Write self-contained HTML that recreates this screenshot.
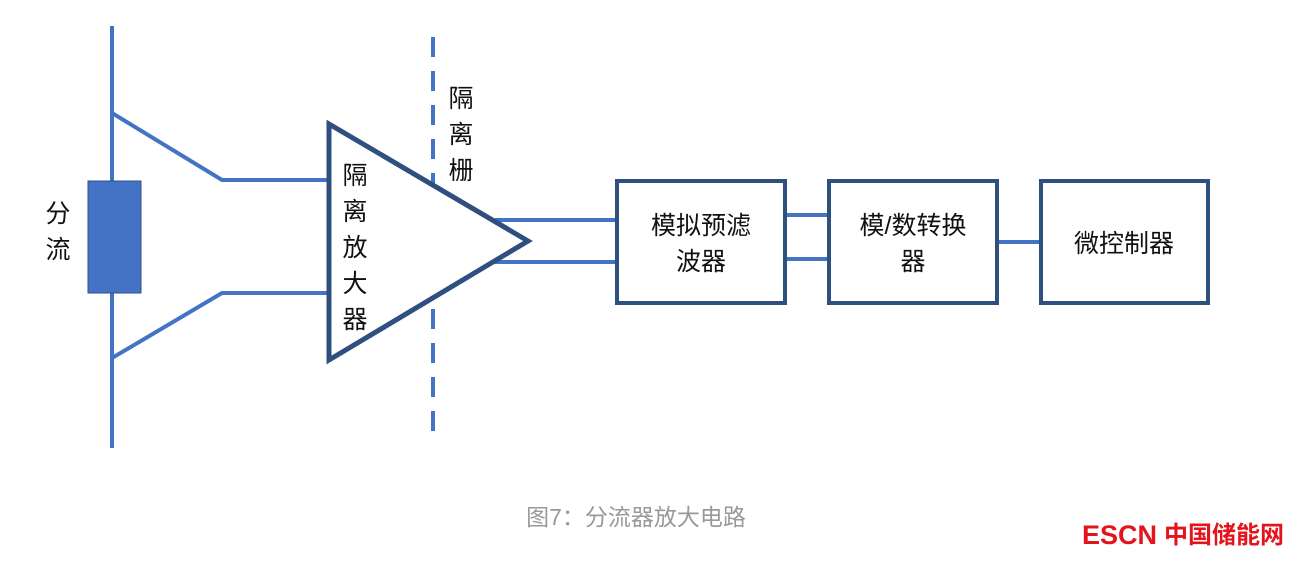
<!DOCTYPE html>
<html><head><meta charset="utf-8"><style>
html,body{margin:0;padding:0;background:#fff;}
body{width:1316px;height:561px;overflow:hidden;position:relative;}
svg{position:absolute;left:0;top:0;}
text{font-family:"Liberation Sans","Noto Sans CJK SC",sans-serif;}
</style></head><body>
<svg width="1316" height="561" viewBox="0 0 1316 561">
<g stroke="#4472c4" stroke-width="4" fill="none">
<line x1="112" y1="26" x2="112" y2="448"/>
<polyline points="112,113 222,180 330,180"/>
<polyline points="112,358 222,293 330,293"/>
<line x1="433" y1="37" x2="433" y2="442" stroke-dasharray="20,14"/>
<line x1="495" y1="220" x2="617" y2="220"/>
<line x1="495" y1="262" x2="617" y2="262"/>
<line x1="786" y1="215" x2="828" y2="215"/>
<line x1="786" y1="259" x2="828" y2="259"/>
<line x1="997" y1="242" x2="1040" y2="242"/>
</g>
<rect x="88" y="181" width="53" height="112" fill="#4472c4" stroke="#2f528f" stroke-width="1"/>
<polygon points="329,124 329,360 528,241" fill="#fff" stroke="#2f4f7f" stroke-width="5" stroke-linejoin="miter"/>
<g fill="#fff" stroke="#2f4f7f" stroke-width="4">
<rect x="617" y="181" width="168" height="122"/>
<rect x="829" y="181" width="168" height="122"/>
<rect x="1041" y="181" width="167" height="122"/>
</g>
<g font-size="25" fill="#111" text-anchor="middle">
<text x="58" y="222">分</text><text x="58" y="258">流</text>
<text x="355" y="184">隔</text><text x="355" y="220">离</text><text x="355" y="256">放</text><text x="355" y="292">大</text><text x="355" y="328">器</text>
<text x="461" y="107">隔</text><text x="461" y="143">离</text><text x="461" y="179">栅</text>
<text x="701" y="234">模拟预滤</text><text x="701" y="270">波器</text>
<text x="913" y="234">模/数转换</text><text x="913" y="270">器</text>
<text x="1124" y="252">微控制器</text>
</g>
<text x="636" y="525" font-size="23" fill="#999" text-anchor="middle">图7：分流器放大电路</text>
<text x="1082" y="544" font-size="27" font-weight="bold" fill="#e3141b">ESCN</text>
<text x="1164" y="543" font-size="24" font-weight="bold" fill="#e3141b">中国储能网</text>
</svg>
</body></html>
